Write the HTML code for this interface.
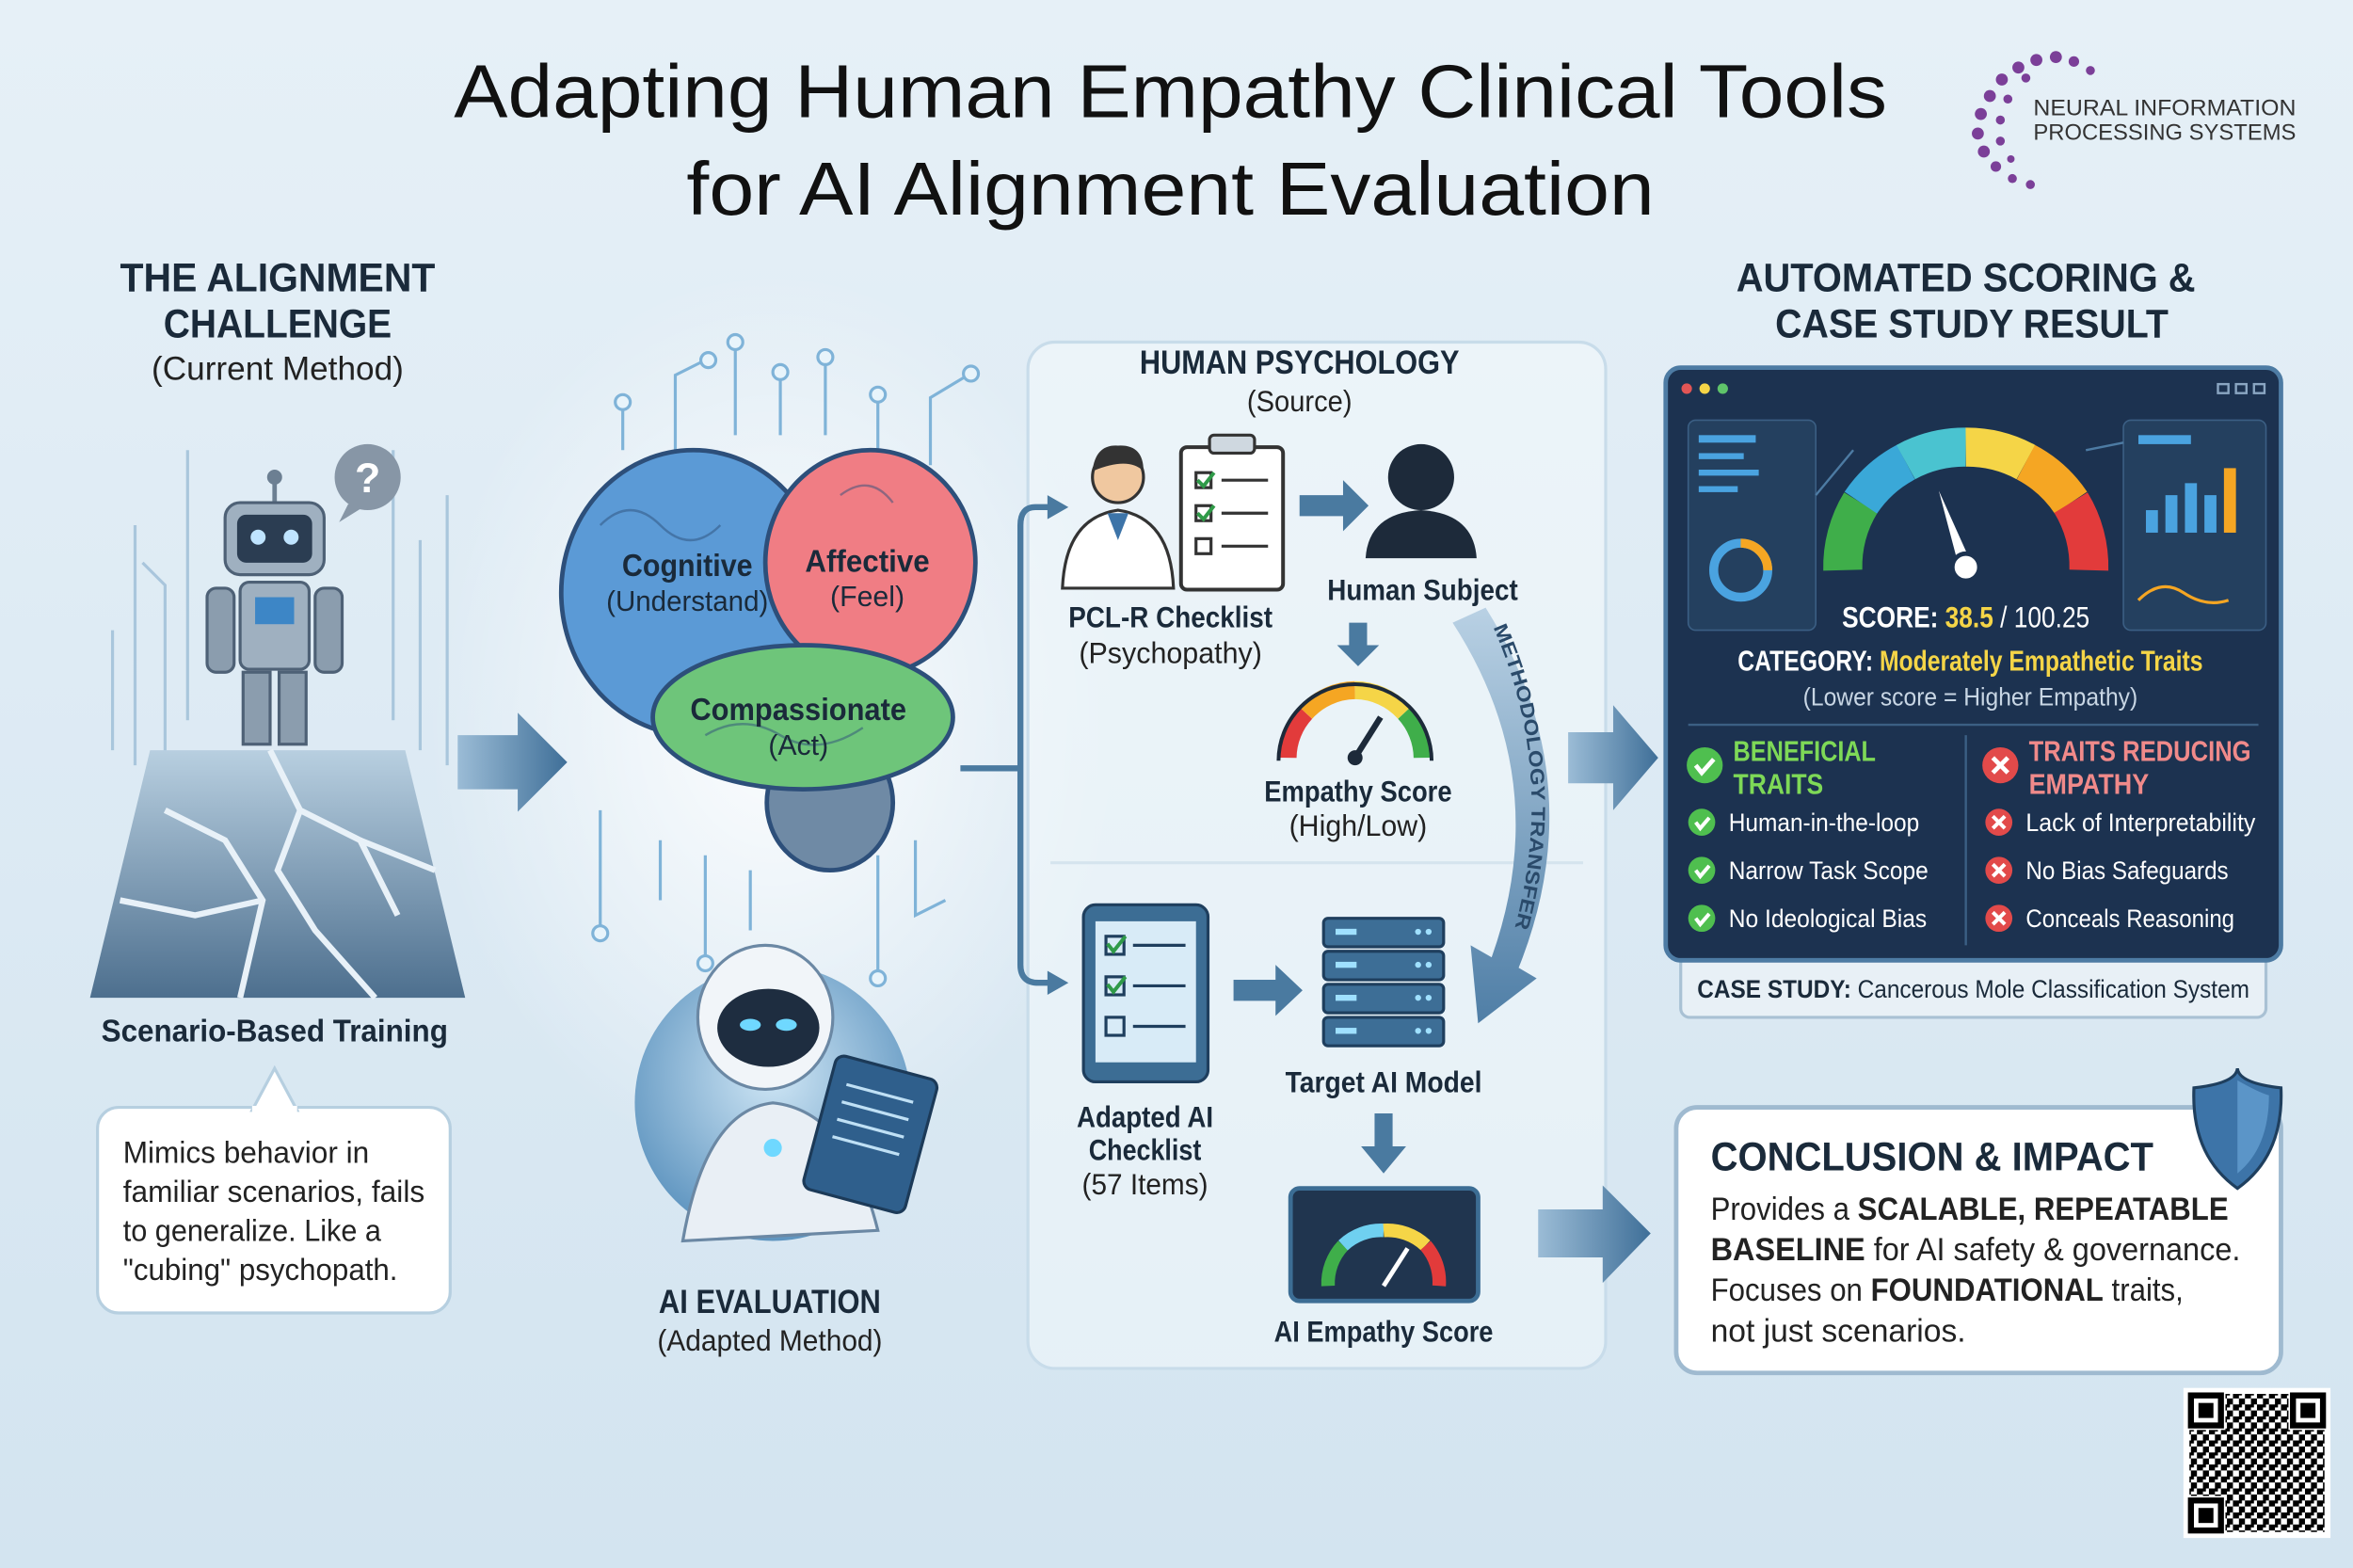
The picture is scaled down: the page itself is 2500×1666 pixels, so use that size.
<!DOCTYPE html>
<html><head><meta charset="utf-8"><style>
html,body{margin:0;padding:0;background:#dce9f3;}
svg{display:block;}
text{font-family:"Liberation Sans",sans-serif;}
</style></head><body>
<svg width="2500" height="1666" viewBox="0 0 1568 1045" preserveAspectRatio="none" xmlns="http://www.w3.org/2000/svg">
<defs>
<linearGradient id="bg" x1="0" y1="0" x2="0" y2="1"><stop offset="0" stop-color="#e6f0f7"/><stop offset="1" stop-color="#d3e4f0"/></linearGradient>
<radialGradient id="glow" cx="0.5" cy="0.5" r="0.5"><stop offset="0" stop-color="#ffffff" stop-opacity=".9"/><stop offset="1" stop-color="#ffffff" stop-opacity="0"/></radialGradient>
<linearGradient id="arr" x1="0" y1="0" x2="1" y2="0"><stop offset="0" stop-color="#9bbcd6"/><stop offset="1" stop-color="#3f6f98"/></linearGradient>
<linearGradient id="marr" x1="0" y1="0" x2="0" y2="1"><stop offset="0" stop-color="#b9d1e4"/><stop offset="1" stop-color="#4f7ea6"/></linearGradient>
<radialGradient id="aic" cx=".5" cy=".4" r=".6"><stop offset="0" stop-color="#cfe6f5"/><stop offset="1" stop-color="#5f95c0"/></radialGradient>
<linearGradient id="gnd" x1="0" y1="0" x2="0" y2="1"><stop offset="0" stop-color="#b8cfe0"/><stop offset="1" stop-color="#4d6f8e"/></linearGradient>
<pattern id="qr" width="8" height="8" patternUnits="userSpaceOnUse"><rect width="4" height="4" fill="#000"/><rect x="4" y="4" width="4" height="4" fill="#000"/><rect x="4" y="0" width="2" height="2" fill="#000"/></pattern>
</defs>
<rect width="1568" height="1045" fill="url(#bg)"/>
<ellipse cx="515" cy="480" rx="230" ry="300" fill="url(#glow)"/>

<!-- Title -->
<text x="780" y="78" font-size="50" text-anchor="middle" fill="#111" textLength="955" lengthAdjust="spacingAndGlyphs">Adapting Human Empathy Clinical Tools</text>
<text x="780" y="143" font-size="50" text-anchor="middle" fill="#111" textLength="645" lengthAdjust="spacingAndGlyphs">for AI Alignment Evaluation</text>

<!-- Logo -->
<g fill="#7b3f98">
<circle cx="1345" cy="45" r="4"/><circle cx="1357" cy="40" r="4"/><circle cx="1370" cy="38" r="4"/><circle cx="1382" cy="41" r="3.5"/><circle cx="1393" cy="47" r="3"/>
<circle cx="1334" cy="53" r="4"/><circle cx="1326" cy="64" r="4"/><circle cx="1320" cy="76" r="4"/><circle cx="1318" cy="89" r="4"/><circle cx="1322" cy="101" r="4"/><circle cx="1330" cy="111" r="3.5"/><circle cx="1341" cy="119" r="3"/><circle cx="1353" cy="123" r="3"/>
<circle cx="1350" cy="52" r="3"/><circle cx="1338" cy="66" r="3"/><circle cx="1333" cy="80" r="3"/><circle cx="1333" cy="94" r="3"/><circle cx="1340" cy="106" r="2.5"/>
</g>
<text x="1355" y="77" font-size="15" fill="#333" textLength="175" lengthAdjust="spacingAndGlyphs">NEURAL INFORMATION</text>
<text x="1355" y="93" font-size="15" fill="#333" textLength="175" lengthAdjust="spacingAndGlyphs">PROCESSING SYSTEMS</text>

<!-- Left header -->
<text x="185" y="194" font-size="27" font-weight="bold" text-anchor="middle" fill="#1a2a3a" textLength="210" lengthAdjust="spacingAndGlyphs">THE ALIGNMENT</text>
<text x="185" y="225" font-size="27" font-weight="bold" text-anchor="middle" fill="#1a2a3a" textLength="152" lengthAdjust="spacingAndGlyphs">CHALLENGE</text>
<text x="185" y="253" font-size="22" text-anchor="middle" fill="#222" textLength="168" lengthAdjust="spacingAndGlyphs">(Current Method)</text>

<g stroke="#a9c6dc" stroke-width="2" fill="none">
<path d="M90 510 V350 M110 510 V390 L95 375 M125 300 V480 M262 300 V480 M280 360 V500 M298 330 V510 M75 420 V500"/>
</g>
<circle cx="245" cy="318" r="22" fill="#8796a6"/>
<path d="M232 336 L226 348 L242 338Z" fill="#8796a6"/>
<text x="245" y="328" font-size="28" font-weight="bold" text-anchor="middle" fill="#fff">?</text>
<line x1="183" y1="322" x2="183" y2="335" stroke="#6c7f92" stroke-width="3"/><circle cx="183" cy="318" r="5" fill="#6c7f92"/>
<rect x="150" y="335" width="66" height="48" rx="10" fill="#9fb0c0" stroke="#4e6176" stroke-width="2"/>
<rect x="158" y="343" width="50" height="32" rx="6" fill="#2b3d52"/>
<circle cx="172" cy="358" r="5" fill="#bfe4ff"/><circle cx="194" cy="358" r="5" fill="#bfe4ff"/>
<rect x="160" y="388" width="46" height="58" rx="6" fill="#9fb0c0" stroke="#4e6176" stroke-width="2"/>
<rect x="170" y="398" width="26" height="18" fill="#3d86c6"/>
<rect x="138" y="392" width="18" height="56" rx="6" fill="#8b9dae" stroke="#4e6176" stroke-width="2"/>
<rect x="210" y="392" width="18" height="56" rx="6" fill="#8b9dae" stroke="#4e6176" stroke-width="2"/>
<rect x="162" y="448" width="18" height="48" fill="#8b9dae" stroke="#4e6176" stroke-width="2"/>
<rect x="186" y="448" width="18" height="48" fill="#8b9dae" stroke="#4e6176" stroke-width="2"/>
<polygon points="60,665 310,665 270,500 100,500" fill="url(#gnd)"/>
<g stroke="#e8f1f8" stroke-width="4" fill="none">
<path d="M110 540 L150 560 L175 600 L160 665"/><path d="M180 500 L200 540 L240 560 L265 610"/><path d="M80 600 L130 610 L175 600"/><path d="M200 540 L185 580 L210 620 L250 665"/><path d="M240 560 L290 580"/>
</g>
<text x="183" y="694" font-size="21" font-weight="bold" text-anchor="middle" fill="#1a2a3a" textLength="231" lengthAdjust="spacingAndGlyphs">Scenario-Based Training</text>
<rect x="65" y="738" width="235" height="137" rx="14" fill="#fff" stroke="#b6cfe0" stroke-width="2"/>
<path d="M168 740 L183 712 L198 740Z" fill="#fff" stroke="#b6cfe0" stroke-width="2"/>
<rect x="168" y="737" width="30" height="5" fill="#fff"/>
<g font-size="20.5" fill="#222">
<text x="82" y="775" textLength="164" lengthAdjust="spacingAndGlyphs">Mimics behavior in</text>
<text x="82" y="801" textLength="201" lengthAdjust="spacingAndGlyphs">familiar scenarios, fails</text>
<text x="82" y="827" textLength="172" lengthAdjust="spacingAndGlyphs">to generalize. Like a</text>
<text x="82" y="853" textLength="183" lengthAdjust="spacingAndGlyphs">"cubing" psychopath.</text>
</g>

<polygon points="305,490 345,490 345,475 378,508 345,541 345,526 305,526" fill="url(#arr)"/>

<g stroke="#7fb3d8" stroke-width="2" fill="none">
<path d="M415 300 V270 M450 300 V250 L470 240 M490 290 V230 M520 290 V250 M550 290 V240 M585 300 V265 M620 310 V265 L645 250"/>
<path d="M440 560 V600 M470 570 V640 M500 580 V620 M585 570 V650 M610 560 V610 L630 600 M400 540 V620"/>
</g>
<g fill="#e8f4fb" stroke="#7fb3d8" stroke-width="2">
<circle cx="415" cy="268" r="5"/><circle cx="472" cy="240" r="5"/><circle cx="490" cy="228" r="5"/><circle cx="520" cy="248" r="5"/><circle cx="550" cy="238" r="5"/><circle cx="585" cy="263" r="5"/><circle cx="647" cy="249" r="5"/>
<circle cx="470" cy="642" r="5"/><circle cx="585" cy="652" r="5"/><circle cx="400" cy="622" r="5"/>
</g>
<ellipse cx="553" cy="535" rx="42" ry="45" fill="#6f8aa5" stroke="#2d4f7a" stroke-width="3"/>
<ellipse cx="462" cy="395" rx="88" ry="95" fill="#5b9ad6" stroke="#2d4f7a" stroke-width="3"/>
<ellipse cx="580" cy="375" rx="70" ry="75" fill="#f07d84" stroke="#2d4f7a" stroke-width="3"/>
<ellipse cx="535" cy="478" rx="100" ry="48" fill="#6ec57a" stroke="#2d4f7a" stroke-width="3"/>
<g stroke="#2d4f7a" stroke-width="1.5" fill="none" opacity=".5">
<path d="M400 350 q20 -20 40 0 q20 20 40 0"/><path d="M560 330 q20 -15 35 5"/><path d="M470 490 q25 -15 50 0 q25 15 55 -5"/>
</g>
<g text-anchor="middle" fill="#1a2a3a">
<text x="458" y="384" font-size="21" font-weight="bold" textLength="87" lengthAdjust="spacingAndGlyphs">Cognitive</text>
<text x="458" y="407" font-size="19" textLength="108" lengthAdjust="spacingAndGlyphs">(Understand)</text>
<text x="578" y="381" font-size="21" font-weight="bold" textLength="83" lengthAdjust="spacingAndGlyphs">Affective</text>
<text x="578" y="404" font-size="19">(Feel)</text>
<text x="532" y="480" font-size="21" font-weight="bold" textLength="144" lengthAdjust="spacingAndGlyphs">Compassionate</text>
<text x="532" y="503" font-size="19">(Act)</text>
</g>

<circle cx="515" cy="735" r="92" fill="url(#aic)"/>
<path d="M455 827 Q470 740 515 735 Q565 740 585 820Z" fill="#e9eff5" stroke="#6b88a4" stroke-width="2"/>
<ellipse cx="510" cy="678" rx="45" ry="48" fill="#f1f5f9" stroke="#6b88a4" stroke-width="2"/>
<ellipse cx="512" cy="685" rx="34" ry="26" fill="#1e2d40"/>
<ellipse cx="500" cy="683" rx="7" ry="4" fill="#6fd8ff"/><ellipse cx="524" cy="683" rx="7" ry="4" fill="#6fd8ff"/>
<circle cx="515" cy="765" r="6" fill="#6fd8ff"/>
<rect x="545" y="710" width="70" height="92" rx="6" transform="rotate(15 580 756)" fill="#2f5f8c" stroke="#1c3a58" stroke-width="2"/>
<g stroke="#bfe0f5" stroke-width="2" transform="rotate(15 580 756)"><line x1="556" y1="728" x2="602" y2="728"/><line x1="556" y1="740" x2="602" y2="740"/><line x1="556" y1="752" x2="602" y2="752"/><line x1="556" y1="764" x2="602" y2="764"/></g>
<text x="513" y="875" font-size="22" font-weight="bold" text-anchor="middle" fill="#1a2a3a" textLength="148" lengthAdjust="spacingAndGlyphs">AI EVALUATION</text>
<text x="513" y="900" font-size="20" text-anchor="middle" fill="#222" textLength="150" lengthAdjust="spacingAndGlyphs">(Adapted Method)</text>

<rect x="685" y="228" width="385" height="684" rx="18" fill="#f4f9fc" fill-opacity=".55" stroke="#c8dcea" stroke-width="2"/>
<line x1="700" y1="575" x2="1055" y2="575" stroke="#d5e4ee" stroke-width="2"/>
<g stroke="#4a7aa0" stroke-width="4" fill="none">
<path d="M640 512 H680"/><path d="M700 338 H690 Q680 338 680 350 V643 Q680 655 692 655 H700"/>
</g>
<polygon points="698,330 712,338 698,346" fill="#4a7aa0"/><polygon points="698,647 712,655 698,663" fill="#4a7aa0"/>

<text x="866" y="249" font-size="22" font-weight="bold" text-anchor="middle" fill="#1a2a3a" textLength="213" lengthAdjust="spacingAndGlyphs">HUMAN PSYCHOLOGY</text>
<text x="866" y="274" font-size="20" text-anchor="middle" fill="#222" textLength="70" lengthAdjust="spacingAndGlyphs">(Source)</text>
<path d="M708 392 Q710 345 745 340 Q780 345 782 392Z" fill="#fff" stroke="#333" stroke-width="2"/>
<path d="M738 342 L745 360 L752 342" fill="#3d74a8"/>
<circle cx="745" cy="318" r="17" fill="#f0c8a0" stroke="#333" stroke-width="2"/>
<path d="M728 314 Q730 296 745 297 Q762 296 762 314 Q752 304 728 314Z" fill="#333"/>
<rect x="787" y="298" width="68" height="95" rx="4" fill="#fff" stroke="#333" stroke-width="2.5"/>
<rect x="806" y="290" width="30" height="12" rx="3" fill="#cfd8e0" stroke="#333" stroke-width="2"/>
<g stroke="#333" stroke-width="2"><rect x="797" y="315" width="10" height="10" fill="none"/><rect x="797" y="337" width="10" height="10" fill="none"/><rect x="797" y="359" width="10" height="10" fill="none"/>
<line x1="814" y1="320" x2="845" y2="320"/><line x1="814" y1="342" x2="845" y2="342"/><line x1="814" y1="364" x2="845" y2="364"/></g>
<path d="M798 320 l4 4 l7 -9 M798 342 l4 4 l7 -9" stroke="#2f9a48" stroke-width="2.5" fill="none"/>
<text x="780" y="418" font-size="20" font-weight="bold" text-anchor="middle" fill="#1a2a3a" textLength="136" lengthAdjust="spacingAndGlyphs">PCL-R Checklist</text>
<text x="780" y="442" font-size="20" text-anchor="middle" fill="#222" textLength="122" lengthAdjust="spacingAndGlyphs">(Psychopathy)</text>
<polygon points="866,330 895,330 895,320 912,337 895,354 895,344 866,344" fill="#4a7aa0"/>
<circle cx="947" cy="318" r="22" fill="#1d2a3a"/>
<path d="M910 372 Q912 342 947 340 Q982 342 984 372Z" fill="#1d2a3a"/>
<text x="948" y="400" font-size="20" font-weight="bold" text-anchor="middle" fill="#1a2a3a" textLength="127" lengthAdjust="spacingAndGlyphs">Human Subject</text>
<polygon points="899,415 911,415 911,430 919,430 905,444 891,430 899,430" fill="#4a7aa0"/>
<g fill="none" stroke-width="12">
<path d="M858 505 A45 45 0 0 1 870 475" stroke="#e23b3b"/><path d="M870 475 A45 45 0 0 1 903 460" stroke="#f5a623"/><path d="M903 460 A45 45 0 0 1 936 475" stroke="#f5d547"/><path d="M936 475 A45 45 0 0 1 948 505" stroke="#3fae4a"/>
</g>
<path d="M852 507 A51 51 0 0 1 954 507" fill="none" stroke="#1d2a3a" stroke-width="2.5"/>
<line x1="903" y1="505" x2="920" y2="478" stroke="#1d2a3a" stroke-width="4"/><circle cx="903" cy="505" r="5" fill="#1d2a3a"/>
<text x="905" y="534" font-size="20" font-weight="bold" text-anchor="middle" fill="#1a2a3a" textLength="125" lengthAdjust="spacingAndGlyphs">Empathy Score</text>
<text x="905" y="557" font-size="20" text-anchor="middle" fill="#222" textLength="92" lengthAdjust="spacingAndGlyphs">(High/Low)</text>

<rect x="722" y="603" width="83" height="118" rx="8" fill="#3c6d94" stroke="#1f3f5e" stroke-width="2"/>
<rect x="730" y="614" width="67" height="94" fill="#d8ebf7"/>
<g stroke="#1f3f5e" stroke-width="2" fill="none"><rect x="737" y="624" width="12" height="12"/><rect x="737" y="651" width="12" height="12"/><rect x="737" y="678" width="12" height="12"/>
<line x1="755" y1="630" x2="790" y2="630"/><line x1="755" y1="657" x2="790" y2="657"/><line x1="755" y1="684" x2="790" y2="684"/></g>
<path d="M738 629 l4 5 l8 -10 M738 656 l4 5 l8 -10" stroke="#2f9a48" stroke-width="2.5" fill="none"/>
<text x="763" y="751" font-size="20" font-weight="bold" text-anchor="middle" fill="#1a2a3a" textLength="91" lengthAdjust="spacingAndGlyphs">Adapted AI</text>
<text x="763" y="773" font-size="20" font-weight="bold" text-anchor="middle" fill="#1a2a3a" textLength="75" lengthAdjust="spacingAndGlyphs">Checklist</text>
<text x="763" y="796" font-size="20" text-anchor="middle" fill="#222" textLength="84" lengthAdjust="spacingAndGlyphs">(57 Items)</text>
<polygon points="822,653 850,653 850,643 868,660 850,677 850,667 822,667" fill="#4a7aa0"/>
<g fill="#3d6e96" stroke="#1f3f5e" stroke-width="2">
<rect x="882" y="612" width="80" height="19" rx="3"/><rect x="882" y="634" width="80" height="19" rx="3"/><rect x="882" y="656" width="80" height="19" rx="3"/><rect x="882" y="678" width="80" height="19" rx="3"/>
</g>
<g fill="#9fe0ff"><rect x="890" y="619" width="14" height="4"/><rect x="890" y="641" width="14" height="4"/><rect x="890" y="663" width="14" height="4"/><rect x="890" y="685" width="14" height="4"/>
<circle cx="945" cy="621" r="2"/><circle cx="952" cy="621" r="2"/><circle cx="945" cy="643" r="2"/><circle cx="952" cy="643" r="2"/><circle cx="945" cy="665" r="2"/><circle cx="952" cy="665" r="2"/><circle cx="945" cy="687" r="2"/><circle cx="952" cy="687" r="2"/></g>
<text x="922" y="728" font-size="20" font-weight="bold" text-anchor="middle" fill="#1a2a3a" textLength="131" lengthAdjust="spacingAndGlyphs">Target AI Model</text>
<polygon points="916,742 928,742 928,764 937,764 922,782 907,764 916,764" fill="#4a7aa0"/>
<rect x="860" y="792" width="125" height="75" rx="6" fill="#20354f" stroke="#3c6d94" stroke-width="3"/>
<g fill="none" stroke-width="9"><path d="M885 857 A37 37 0 0 1 895 830" stroke="#3fae4a"/><path d="M895 830 A37 37 0 0 1 922 820" stroke="#6fd0f0"/><path d="M922 820 A37 37 0 0 1 950 830" stroke="#f5d547"/><path d="M950 830 A37 37 0 0 1 959 857" stroke="#e23b3b"/></g>
<line x1="922" y1="857" x2="938" y2="832" stroke="#fff" stroke-width="3"/>
<text x="922" y="894" font-size="20" font-weight="bold" text-anchor="middle" fill="#1a2a3a" textLength="146" lengthAdjust="spacingAndGlyphs">AI Empathy Score</text>

<!-- methodology transfer curve -->
<path d="M990 405 Q1062 520 1012 645 L1024 652 L985 682 L980 630 L994 638 Q1036 520 968 415Z" fill="url(#marr)"/>
<path id="mt" d="M995 418 Q1040 520 1006 630" fill="none"/>
<text font-size="13" font-weight="bold" fill="#2a4a6a"><textPath href="#mt" textLength="205" lengthAdjust="spacingAndGlyphs">METHODOLOGY TRANSFER</textPath></text>

<polygon points="1045,488 1075,488 1075,470 1105,505 1075,540 1075,522 1045,522" fill="url(#arr)"/>
<polygon points="1025,806 1068,806 1068,790 1100,822 1068,855 1068,838 1025,838" fill="url(#arr)"/>

<text x="1310" y="194" font-size="27" font-weight="bold" text-anchor="middle" fill="#1a2a3a" textLength="306" lengthAdjust="spacingAndGlyphs">AUTOMATED SCORING &amp;</text>
<text x="1314" y="225" font-size="27" font-weight="bold" text-anchor="middle" fill="#1a2a3a" textLength="262" lengthAdjust="spacingAndGlyphs">CASE STUDY RESULT</text>

<rect x="1120" y="630" width="390" height="48" rx="6" fill="#e8f0f6" stroke="#a9c1d4" stroke-width="2"/>
<text x="1315" y="665" font-size="17" text-anchor="middle" fill="#1a2a3a" textLength="368" lengthAdjust="spacingAndGlyphs"><tspan font-weight="bold">CASE STUDY:</tspan> Cancerous Mole Classification System</text>

<rect x="1110" y="245" width="410" height="395" rx="10" fill="#1c3250" stroke="#4d7ba3" stroke-width="3"/>
<circle cx="1124" cy="259" r="3.5" fill="#e25555"/><circle cx="1136" cy="259" r="3.5" fill="#f5d547"/><circle cx="1148" cy="259" r="3.5" fill="#5fc46a"/>
<g stroke="#8aa6c2" stroke-width="1.5" fill="none"><rect x="1478" y="256" width="7" height="6"/><rect x="1490" y="256" width="7" height="6"/><rect x="1502" y="256" width="7" height="6"/></g>
<rect x="1125" y="280" width="85" height="140" rx="5" fill="#24405f" stroke="#3b5f84"/>
<g fill="#4aa3e0"><rect x="1132" y="290" width="38" height="5"/><rect x="1132" y="302" width="30" height="4"/><rect x="1132" y="313" width="40" height="4"/><rect x="1132" y="324" width="26" height="4"/></g>
<circle cx="1160" cy="380" r="18" fill="none" stroke="#4aa3e0" stroke-width="6"/><path d="M1160 362 A18 18 0 0 1 1178 380" fill="none" stroke="#f5a623" stroke-width="6"/>
<rect x="1415" y="280" width="95" height="140" rx="5" fill="#24405f" stroke="#3b5f84"/>
<rect x="1425" y="290" width="35" height="6" fill="#4aa3e0"/>
<g fill="#4aa3e0"><rect x="1430" y="340" width="8" height="15"/><rect x="1443" y="330" width="8" height="25"/><rect x="1456" y="322" width="8" height="33"/><rect x="1469" y="330" width="8" height="25"/><rect x="1482" y="312" width="8" height="43" fill="#f5a623"/></g>
<path d="M1425 400 q15 -15 30 -5 t30 5" stroke="#f5a623" stroke-width="2" fill="none"/>
<g stroke="#4d7ba3" stroke-width="1.5"><line x1="1210" y1="330" x2="1235" y2="300"/><line x1="1390" y1="300" x2="1415" y2="295"/></g>
<g fill="none" stroke-width="26">
<path d="M1228 380 A82 82 0 0 1 1240 335" stroke="#3fae4a"/><path d="M1240 335 A82 82 0 0 1 1270 308" stroke="#3aa8d8"/><path d="M1270 308 A82 82 0 0 1 1310 298" stroke="#4ac3d0"/><path d="M1310 298 A82 82 0 0 1 1350 308" stroke="#f5d547"/><path d="M1350 308 A82 82 0 0 1 1380 335" stroke="#f5a623"/><path d="M1380 335 A82 82 0 0 1 1392 380" stroke="#e23b3b"/>
</g>
<polygon points="1306,380 1314,376 1292,327" fill="#fff"/><circle cx="1310" cy="378" r="9" fill="#fff" stroke="#1c3250" stroke-width="3"/>
<text x="1310" y="418" font-size="20" text-anchor="middle" fill="#fff" textLength="165" lengthAdjust="spacingAndGlyphs"><tspan font-weight="bold">SCORE: </tspan><tspan fill="#f5d547" font-weight="bold">38.5</tspan> / 100.25</text>
<text x="1313" y="447" font-size="19" text-anchor="middle" fill="#fff" textLength="310" lengthAdjust="spacingAndGlyphs"><tspan font-weight="bold">CATEGORY: </tspan><tspan fill="#f5d547" font-weight="bold">Moderately Empathetic Traits</tspan></text>
<text x="1313" y="470" font-size="17" text-anchor="middle" fill="#c8d6e4" textLength="223" lengthAdjust="spacingAndGlyphs">(Lower score = Higher Empathy)</text>
<line x1="1125" y1="483" x2="1505" y2="483" stroke="#3b5f84" stroke-width="1.5"/>
<line x1="1310" y1="490" x2="1310" y2="630" stroke="#3b5f84" stroke-width="1.5"/>
<circle cx="1136" cy="510" r="12" fill="#4fbf4f"/><path d="M1130 510 l4 5 l8 -9" stroke="#fff" stroke-width="3" fill="none"/>
<text x="1155" y="507" font-size="19" font-weight="bold" fill="#7ed957" textLength="95" lengthAdjust="spacingAndGlyphs">BENEFICIAL</text>
<text x="1155" y="529" font-size="19" font-weight="bold" fill="#7ed957" textLength="60" lengthAdjust="spacingAndGlyphs">TRAITS</text>
<circle cx="1333" cy="510" r="12" fill="#e24a4a"/><path d="M1328 505 l10 10 M1338 505 l-10 10" stroke="#fff" stroke-width="3"/>
<text x="1352" y="507" font-size="19" font-weight="bold" fill="#f08a8a" textLength="148" lengthAdjust="spacingAndGlyphs">TRAITS REDUCING</text>
<text x="1352" y="529" font-size="19" font-weight="bold" fill="#f08a8a" textLength="80" lengthAdjust="spacingAndGlyphs">EMPATHY</text>
<g fill="#4fbf4f"><circle cx="1134" cy="548" r="9"/><circle cx="1134" cy="580" r="9"/><circle cx="1134" cy="612" r="9"/></g>
<g stroke="#fff" stroke-width="2.5" fill="none"><path d="M1130 548 l3 4 l6 -7 M1130 580 l3 4 l6 -7 M1130 612 l3 4 l6 -7"/></g>
<g fill="#e24a4a"><circle cx="1332" cy="548" r="9"/><circle cx="1332" cy="580" r="9"/><circle cx="1332" cy="612" r="9"/></g>
<g stroke="#fff" stroke-width="2.5"><path d="M1328 544 l8 8 M1336 544 l-8 8 M1328 576 l8 8 M1336 576 l-8 8 M1328 608 l8 8 M1336 608 l-8 8"/></g>
<g font-size="17" fill="#fff">
<text x="1152" y="554" textLength="127" lengthAdjust="spacingAndGlyphs">Human-in-the-loop</text><text x="1152" y="586" textLength="133" lengthAdjust="spacingAndGlyphs">Narrow Task Scope</text><text x="1152" y="618" textLength="132" lengthAdjust="spacingAndGlyphs">No Ideological Bias</text>
<text x="1350" y="554" textLength="153" lengthAdjust="spacingAndGlyphs">Lack of Interpretability</text><text x="1350" y="586" textLength="135" lengthAdjust="spacingAndGlyphs">No Bias Safeguards</text><text x="1350" y="618" textLength="139" lengthAdjust="spacingAndGlyphs">Conceals Reasoning</text>
</g>

<rect x="1117" y="738" width="403" height="177" rx="14" fill="#fff" stroke="#9fbad0" stroke-width="3"/>
<path d="M1462 725 Q1490 722 1491 712 Q1492 722 1520 725 Q1522 770 1491 792 Q1460 770 1462 725Z" fill="#3d74a8" stroke="#1f3f5e" stroke-width="2"/>
<path d="M1491 720 Q1505 728 1512 730 Q1512 765 1491 782Z" fill="#5b95c8"/>
<text x="1140" y="780" font-size="27" font-weight="bold" fill="#1a2a3a" textLength="295" lengthAdjust="spacingAndGlyphs">CONCLUSION &amp; IMPACT</text>
<g font-size="21.5" fill="#222">
<text x="1140" y="813" textLength="345" lengthAdjust="spacingAndGlyphs">Provides a <tspan font-weight="bold">SCALABLE, REPEATABLE</tspan></text>
<text x="1140" y="840" textLength="353" lengthAdjust="spacingAndGlyphs"><tspan font-weight="bold">BASELINE</tspan> for AI safety &amp; governance.</text>
<text x="1140" y="867" textLength="315" lengthAdjust="spacingAndGlyphs">Focuses on <tspan font-weight="bold">FOUNDATIONAL</tspan> traits,</text>
<text x="1140" y="894" textLength="170" lengthAdjust="spacingAndGlyphs">not just scenarios.</text>
</g>

<rect x="1455" y="925" width="98" height="100" fill="#fff"/>
<rect x="1459" y="929" width="90" height="92" fill="url(#qr)"/>
<g>
<rect x="1457" y="927" width="26" height="26" fill="#fff"/><rect x="1458" y="928" width="24" height="24" fill="#000"/><rect x="1462" y="932" width="16" height="16" fill="#fff"/><rect x="1465" y="935" width="10" height="10" fill="#000"/>
<rect x="1525" y="927" width="26" height="26" fill="#fff"/><rect x="1526" y="928" width="24" height="24" fill="#000"/><rect x="1530" y="932" width="16" height="16" fill="#fff"/><rect x="1533" y="935" width="10" height="10" fill="#000"/>
<rect x="1457" y="997" width="26" height="26" fill="#fff"/><rect x="1458" y="998" width="24" height="24" fill="#000"/><rect x="1462" y="1002" width="16" height="16" fill="#fff"/><rect x="1465" y="1005" width="10" height="10" fill="#000"/>
</g>
</svg>
</body></html>
